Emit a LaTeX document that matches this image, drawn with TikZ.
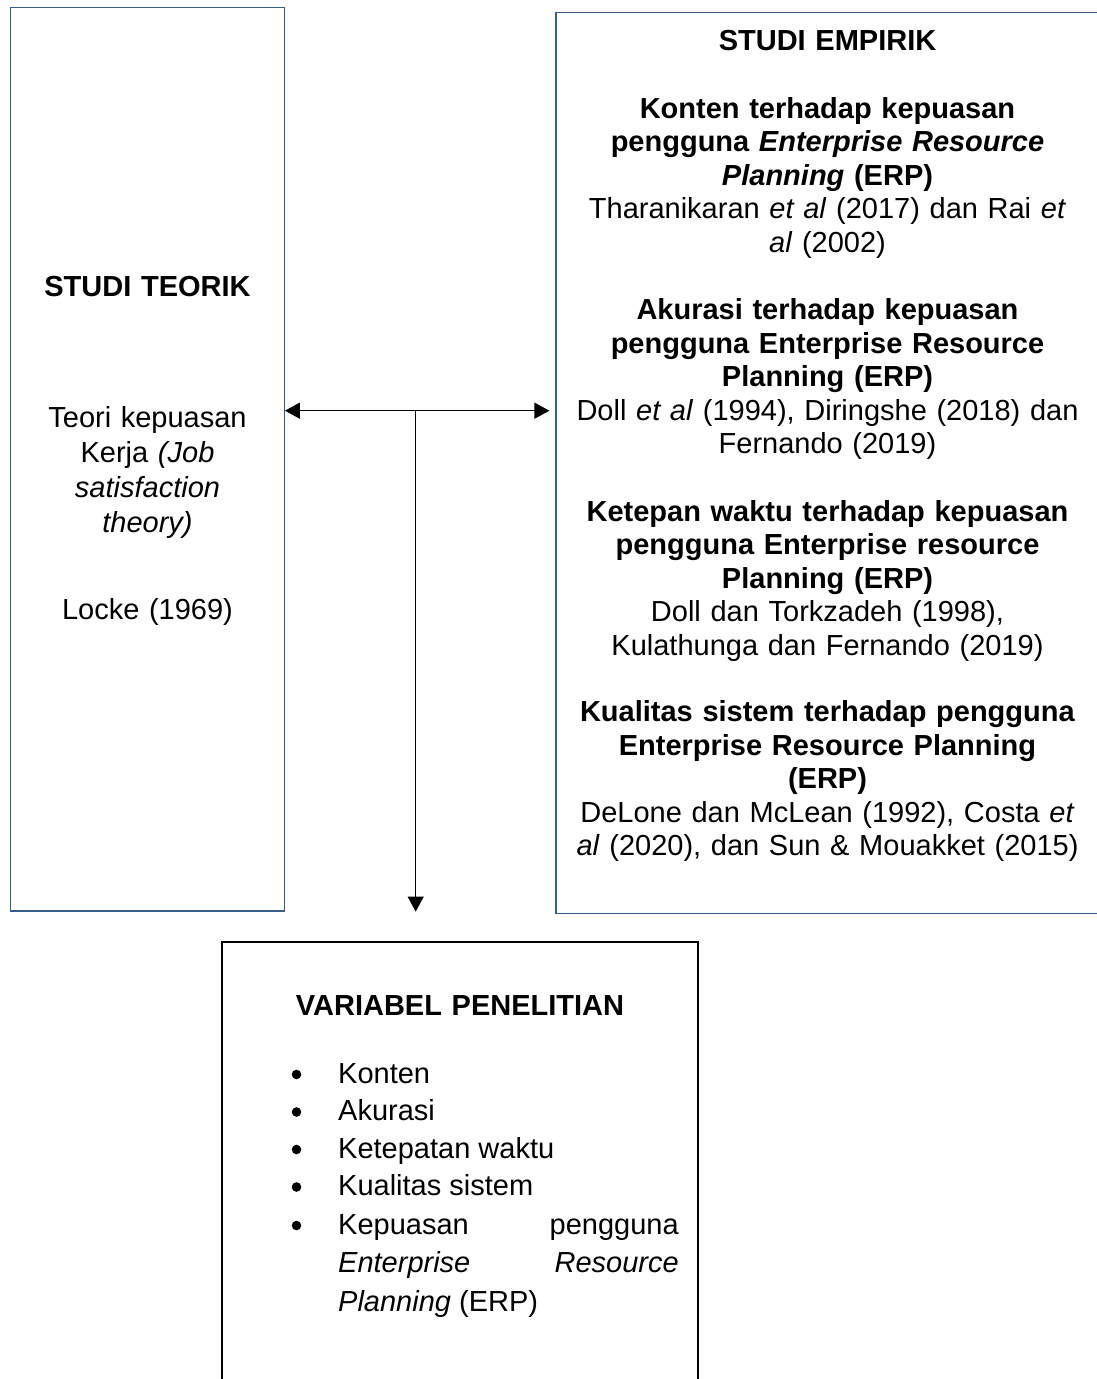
\documentclass[tikz,border=0pt]{standalone}
\usepackage{fontspec}
\setmainfont{Liberation Sans}
\usetikzlibrary{arrows.meta}
\definecolor{boxblue}{RGB}{56,93,138}
\begin{document}
\begin{tikzpicture}[x=1pt,y=-1pt,
  bluebox/.style={draw=boxblue,line width=1.2pt,inner sep=0pt},
  blackbox/.style={draw=black,line width=1.2pt,inner sep=0pt},
  txt/.style={font=\fontsize{29}{33.6}\selectfont,inner sep=0pt,anchor=base,align=center},
  itemtxt/.style={font=\fontsize{29}{33.6}\selectfont,inner sep=0pt,anchor=base west},
  conn/.style={line width=1.2pt,-{Triangle[length=15pt,width=16pt]}},
  bul/.style={fill=black}
]
\useasboundingbox (0,0) rectangle (1097,1379);
\fill[white] (0,0) rectangle (1097,1379);

% boxes
\node[bluebox,minimum width=273.6pt,minimum height=903.4pt] (teorik) at (147.5,459.3) {};
\node[bluebox,minimum width=543pt,minimum height=901pt] (empirik) at (827.5,463) {};
\node[blackbox,minimum width=476pt,minimum height=458pt] (variabel) at (460,1171) {};

% left box text
\node[txt,text width=260pt] (tteorik) at (147.5,296) {\textbf{STUDI TEORIK}};
\node[txt,text width=260pt,font=\fontsize{29}{35.3}\selectfont] (tteori) at (147.5,427)
  {Teori kepuasan\\Kerja \textit{(Job}\\\textit{satisfaction}\\\textit{theory)}};
\node[txt,text width=260pt] (tlocke) at (147.5,619) {Locke (1969)};

% right box text
\node[txt,text width=530pt] (tempirik) at (827.5,50.5) {\textbf{STUDI EMPIRIK}};
\node[txt,text width=530pt] (tkonten) at (827.5,118)
  {\textbf{Konten terhadap kepuasan}\\\textbf{pengguna \textit{Enterprise Resource}}\\\textbf{\textit{Planning} (ERP)}\\Tharanikaran \textit{et al} (2017) dan Rai \textit{et}\\\textit{al} (2002)};
\node[txt,text width=530pt] (takurasi) at (827.5,319.5)
  {\textbf{Akurasi terhadap kepuasan}\\\textbf{pengguna Enterprise Resource}\\\textbf{Planning (ERP)}\\Doll \textit{et al} (1994), Diringshe (2018) dan\\Fernando (2019)};
\node[txt,text width=530pt] (tketepan) at (827.5,521)
  {\textbf{Ketepan waktu terhadap kepuasan}\\\textbf{pengguna Enterprise resource}\\\textbf{Planning (ERP)}\\Doll dan Torkzadeh (1998),\\Kulathunga dan Fernando (2019)};
\node[txt,text width=530pt] (tkualitas) at (827.5,721.5)
  {\textbf{Kualitas sistem terhadap pengguna}\\\textbf{Enterprise Resource Planning}\\\textbf{(ERP)}\\DeLone dan McLean (1992), Costa \textit{et}\\\textit{al} (2020), dan Sun \& Mouakket (2015)};

% bottom box text
\node[txt,text width=460pt] (tvar) at (460,1015) {\textbf{VARIABEL PENELITIAN}};
\node[itemtxt] (i1) at (338,1083) {Konten};
\node[itemtxt] (i2) at (338,1120.5) {Akurasi};
\node[itemtxt] (i3) at (338,1158) {Ketepatan waktu};
\node[itemtxt] (i4) at (338,1195.5) {Kualitas sistem};
\node[itemtxt] (i5a) at (338,1234) {\makebox[340.6pt][l]{Kepuasan\hfill pengguna}};
\node[itemtxt] (i5b) at (338,1272.5) {\makebox[340.6pt][l]{\textit{Enterprise}\hfill\textit{Resource}}};
\node[itemtxt] (i5c) at (338,1311) {\textit{Planning} (ERP)};
\foreach \yy in {1083,1120.5,1158,1195.5,1234} {
  \fill[bul] (296.5,\yy-8.5) circle (4.8);
}

% connectors
\coordinate (j) at (415.7,410.7);
\draw[conn] (j) -- (teorik.east |- j);
\draw[conn] (j) -- ([xshift=-6pt]empirik.west |- j);
\draw[conn] (j) -- (j |- teorik.south);
\end{tikzpicture}
\end{document}
